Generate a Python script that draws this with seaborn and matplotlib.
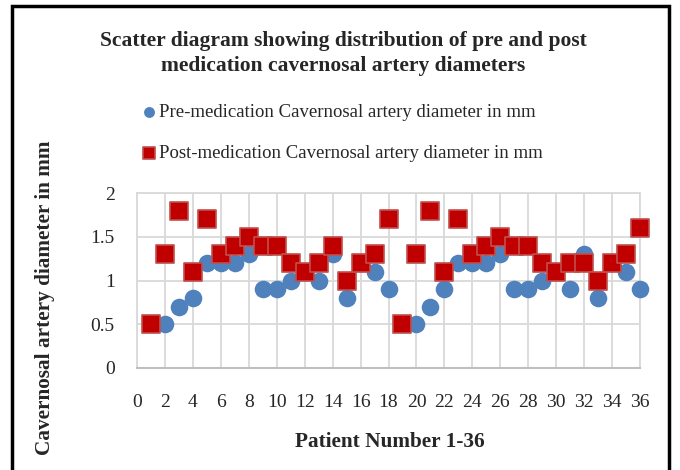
import matplotlib
matplotlib.use("Agg")
import matplotlib.pyplot as plt
import pandas as pd
import seaborn as sns
from matplotlib.patches import Rectangle

# patient numbers and diameters (mm)
patients = list(range(1, 37))
pre = [0.5, 0.5, 0.7, 0.8, 1.2, 1.2, 1.2, 1.3, 0.9, 0.9, 1.0, 1.1,
       1.0, 1.3, 0.8, 1.2, 1.1, 0.9, 0.5, 0.5, 0.7, 0.9, 1.2, 1.2,
       1.2, 1.3, 0.9, 0.9, 1.0, 1.1, 0.9, 1.3, 0.8, 1.2, 1.1, 0.9]
post = [0.5, 1.3, 1.8, 1.1, 1.7, 1.3, 1.4, 1.5, 1.4, 1.4, 1.2, 1.1,
        1.2, 1.4, 1.0, 1.2, 1.3, 1.7, 0.5, 1.3, 1.8, 1.1, 1.7, 1.3,
        1.4, 1.5, 1.4, 1.4, 1.2, 1.1, 1.2, 1.2, 1.0, 1.2, 1.3, 1.6]
pre_label = "Pre-medication Cavernosal artery diameter in mm"
post_label = "Post-medication Cavernosal artery diameter in mm"
x_ticks = list(range(0, 37, 2))
y_ticks = [0, 0.5, 1, 1.5, 2]

df = pd.DataFrame({"patient": patients, "pre": pre, "post": post})

sns.set_style("white")
plt.rcParams["font.family"] = ["Liberation Serif", "DejaVu Serif"]

fig = plt.figure(figsize=(6.8, 4.7), dpi=100)
ax = fig.add_axes([137 / 680, 1 - 368 / 470, 503 / 680, 175 / 470])

sns.scatterplot(data=df, x="patient", y="pre", ax=ax, marker="o", s=160,
                color="#4F81BD", edgecolor="#4F81BD", linewidth=0,
                label=pre_label, zorder=3, clip_on=False)
sns.scatterplot(data=df, x="patient", y="post", ax=ax, marker="s", s=175,
                color="#C00000", edgecolor="#C0504D", linewidth=1.2,
                label=post_label, zorder=4, clip_on=False)

ax.set_xlim(0, 36)
ax.set_ylim(0, 2)
ax.set_xticks(x_ticks)
ax.set_yticks(y_ticks)
ax.set_yticklabels(["0", "0.5", "1", "1.5", "2"])
ax.grid(True, color="#D9D9D9", linewidth=1.3)
ax.set_axisbelow(True)
for side in ["top", "right", "left"]:
    ax.spines[side].set_color("#D9D9D9")
    ax.spines[side].set_linewidth(1.3)
ax.spines["bottom"].set_color("#BFBFBF")
ax.spines["bottom"].set_linewidth(1.5)
ax.tick_params(axis="x", length=0, pad=19, labelsize=14)
ax.tick_params(axis="y", length=0, pad=16, labelsize=14)
ax.set_xlabel("")
ax.set_ylabel("")

fig.text(390 / 680, 1 - 442 / 470, "Patient Number 1-36", ha="center",
         va="center", fontsize=15.3, fontweight="bold")
fig.text(45 / 680, 1 - 298 / 470, "Cavernosal artery diameter in mm",
         ha="center", va="center", rotation=90, fontsize=15.3, fontweight="bold")
fig.text(343 / 680, 1 - 41 / 470, "Scatter diagram showing distribution of pre and post",
         ha="center", va="center", fontsize=15.5, fontweight="bold")
fig.text(343 / 680, 1 - 66 / 470, "medication cavernosal artery diameters",
         ha="center", va="center", fontsize=15.5, fontweight="bold")

leg = ax.legend(loc="upper left", bbox_to_anchor=(140 / 680, 1 - 104 / 470),
                bbox_transform=fig.transFigure, frameon=False, fontsize=13.5,
                labelspacing=1.25, handletextpad=0.0, handlelength=1.0,
                markerscale=0.62, borderaxespad=0, borderpad=0)

fig.patches.append(Rectangle((12 / 680, -0.02), 657 / 680, 1 - 6 / 470 + 0.02,
                             transform=fig.transFigure, fill=False,
                             edgecolor="black", linewidth=2.5))

fig.savefig("out.png", dpi=100)
